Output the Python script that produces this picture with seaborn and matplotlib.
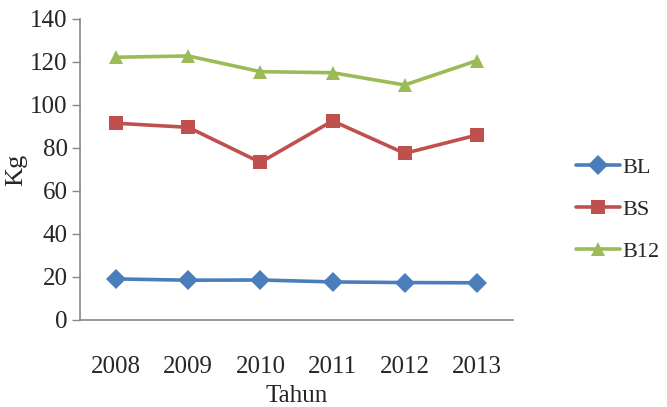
import matplotlib
matplotlib.use("Agg")
import matplotlib.pyplot as plt
import seaborn as sns
import pandas as pd

years = [2008, 2009, 2010, 2011, 2012, 2013]
bl = [19.1, 18.5, 18.6, 17.7, 17.4, 17.3]
bs = [91.5, 89.6, 73.3, 92.6, 77.5, 86.0]
b12 = [122.2, 122.8, 115.5, 115.0, 109.3, 120.6]
series_names = ["BL", "BS", "B12"]

df = pd.DataFrame({
    "Tahun": years * 3,
    "Kg": bl + bs + b12,
    "seri": sum([[n] * len(years) for n in series_names], []),
})

sns.set_style("white")
plt.rcParams["font.family"] = ["Liberation Serif", "DejaVu Serif"]

fig = plt.figure(figsize=(6.67, 4.07), dpi=100)
ax = fig.add_axes([0.12, 0.2138, 0.649, 0.7396])

palette = {"BL": "#4A7EBB", "BS": "#C0504D", "B12": "#9BBB59"}
markers = {"BL": "D", "BS": "s", "B12": "^"}
sns.lineplot(data=df, x="Tahun", y="Kg", hue="seri", style="seri",
             palette=palette, markers=markers, dashes=False,
             linewidth=2.6, markersize=10, markeredgewidth=0, ax=ax)

ax.set_xlim(2007.5, 2013.5)
ax.set_ylim(0, 140)
ax.set_yticks(range(0, 141, 20))
ax.set_xticks(years)
ax.tick_params(axis="y", labelsize=18, length=6, width=1, color="#888888",
               pad=3, left=True, direction="out")
ax.tick_params(axis="x", labelsize=18, length=0, pad=26)
for side in ["top", "right"]:
    ax.spines[side].set_visible(False)
for side in ["left", "bottom"]:
    ax.spines[side].set_color("#888888")
    ax.spines[side].set_linewidth(1.2)

ax.set_xlabel("Tahun", fontsize=18, labelpad=5)
ax.set_ylabel("Kg", fontsize=19, labelpad=2)

ax.legend(title=None, loc="center left", bbox_to_anchor=(0.833, 0.485),
          bbox_transform=fig.transFigure, frameon=False, fontsize=16,
          handlelength=2.0, handletextpad=0.1, labelspacing=0.95)

fig.savefig("out.png", dpi=100)
